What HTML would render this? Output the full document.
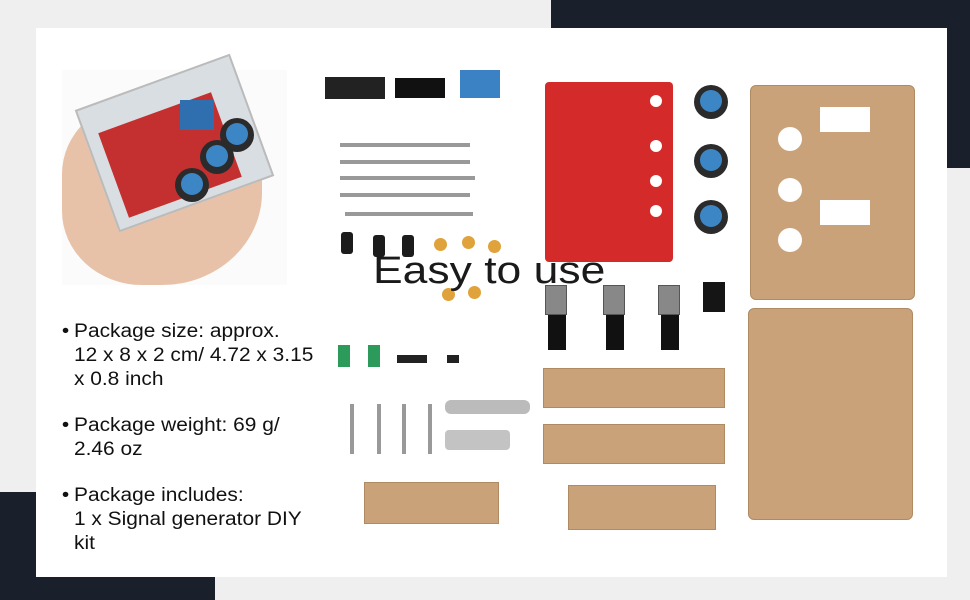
<!DOCTYPE html>
<html><head><style>
body{margin:0;width:970px;height:600px;background:#efefef;position:relative;overflow:hidden;font-family:"Liberation Sans",sans-serif}
div{position:absolute;box-sizing:border-box}
.t{left:74px;font-size:19px;line-height:24px;color:#111;white-space:nowrap;transform:scaleX(1.1);transform-origin:0 0}
.b{position:absolute;left:-11px;top:0}
.tan{background:#c9a27a;border:1px solid #b08a63}
.knob{width:34px;height:34px;border-radius:50%;background:#2b2b2b}
.knob::after{content:"";position:absolute;left:6px;top:5px;width:22px;height:22px;border-radius:50%;background:#3d86c6}
.hole{background:#fff;border-radius:50%}
.res{height:4px;background:#999}
.cap{width:12px;height:22px;background:#1c1c1c;border-radius:3px}
.cer{width:13px;height:13px;border-radius:50%;background:#e0a23a}
.pot{width:22px;height:30px;background:#888;border:1px solid #555}
.scr{width:4px;background:#999}
</style></head><body>
<div style="left:551px;top:0;width:419px;height:168px;background:#1a1f2c"></div>
<div style="left:0;top:492px;width:215px;height:108px;background:#1a1f2c"></div>
<div style="left:36px;top:28px;width:911px;height:549px;background:#fff"></div>

<div style="left:62px;top:70px;width:225px;height:215px;background:#fbfbfb"></div>
<div style="left:62px;top:100px;width:200px;height:185px;background:#e8c2a8;border-radius:40% 30% 50% 40%"></div>
<div style="left:92px;top:78px;width:165px;height:130px;background:#d9dee2;border:2px solid #bbb;transform:rotate(-20deg)"></div>
<div style="left:110px;top:110px;width:120px;height:90px;background:#c43030;transform:rotate(-20deg)"></div>
<div style="left:180px;top:100px;width:34px;height:30px;background:#2f6fb0"></div>
<div class="knob" style="left:220px;top:118px"></div>
<div class="knob" style="left:200px;top:140px"></div>
<div class="knob" style="left:175px;top:168px"></div>

<div style="left:325px;top:77px;width:60px;height:22px;background:#222"></div>
<div style="left:395px;top:78px;width:50px;height:20px;background:#111"></div>
<div style="left:460px;top:70px;width:40px;height:28px;background:#3b82c4"></div>
<div class="res" style="left:340px;top:143px;width:130px"></div>
<div class="res" style="left:340px;top:160px;width:130px"></div>
<div class="res" style="left:340px;top:176px;width:135px"></div>
<div class="res" style="left:340px;top:193px;width:130px"></div>
<div class="res" style="left:345px;top:212px;width:128px"></div>
<div class="cap" style="left:341px;top:232px"></div>
<div class="cap" style="left:373px;top:235px"></div>
<div class="cap" style="left:402px;top:235px"></div>
<div class="cer" style="left:434px;top:238px"></div><div class="cer" style="left:462px;top:236px"></div><div class="cer" style="left:488px;top:240px"></div>
<div class="cer" style="left:442px;top:288px"></div><div class="cer" style="left:468px;top:286px"></div>
<div style="left:338px;top:345px;width:12px;height:22px;background:#2c9a5a"></div>
<div style="left:368px;top:345px;width:12px;height:22px;background:#2c9a5a"></div>
<div style="left:397px;top:355px;width:30px;height:8px;background:#222"></div>
<div style="left:447px;top:355px;width:12px;height:8px;background:#222"></div>
<div class="scr" style="left:350px;top:404px;height:50px"></div>
<div class="scr" style="left:377px;top:404px;height:50px"></div>
<div class="scr" style="left:402px;top:404px;height:50px"></div>
<div class="scr" style="left:428px;top:404px;height:50px"></div>
<div style="left:445px;top:400px;width:85px;height:14px;background:#bbb;border-radius:6px"></div>
<div style="left:445px;top:430px;width:65px;height:20px;background:#aaa;border-radius:4px;opacity:.7"></div>
<div class="tan" style="left:364px;top:482px;width:135px;height:42px"></div>

<div style="left:545px;top:82px;width:128px;height:180px;background:#d42a2a;border-radius:4px"></div>
<div class="hole" style="left:650px;top:95px;width:12px;height:12px"></div>
<div class="hole" style="left:650px;top:140px;width:12px;height:12px"></div>
<div class="hole" style="left:650px;top:175px;width:12px;height:12px"></div>
<div class="hole" style="left:650px;top:205px;width:12px;height:12px"></div>
<div class="knob" style="left:694px;top:85px"></div>
<div class="knob" style="left:694px;top:144px"></div>
<div class="knob" style="left:694px;top:200px"></div>

<div class="pot" style="left:545px;top:285px"></div><div style="left:548px;top:315px;width:18px;height:35px;background:#111"></div>
<div class="pot" style="left:603px;top:285px"></div><div style="left:606px;top:315px;width:18px;height:35px;background:#111"></div>
<div class="pot" style="left:658px;top:285px"></div><div style="left:661px;top:315px;width:18px;height:35px;background:#111"></div>
<div style="left:703px;top:282px;width:22px;height:30px;background:#151515"></div>
<div class="tan" style="left:543px;top:368px;width:182px;height:40px"></div>
<div class="tan" style="left:543px;top:424px;width:182px;height:40px"></div>
<div class="tan" style="left:568px;top:485px;width:148px;height:45px"></div>

<div class="tan" style="left:750px;top:85px;width:165px;height:215px;border-radius:6px"></div>
<div class="hole" style="left:778px;top:127px;width:24px;height:24px"></div>
<div class="hole" style="left:778px;top:178px;width:24px;height:24px"></div>
<div class="hole" style="left:778px;top:228px;width:24px;height:24px"></div>
<div style="left:820px;top:107px;width:50px;height:25px;background:#fff"></div>
<div style="left:820px;top:200px;width:50px;height:25px;background:#fff"></div>
<div class="tan" style="left:748px;top:308px;width:165px;height:212px;border-radius:6px"></div>

<div style="left:373px;top:250px;font-size:38px;color:#1a1a1a;white-space:nowrap;transform:scaleX(1.17);transform-origin:0 0">Easy to use</div>

<div class="t" style="top:320px"><span class="b">•</span>Package size: approx.<br>12 x 8 x 2 cm/ 4.72 x 3.15<br>x 0.8 inch</div>
<div class="t" style="top:414px"><span class="b">•</span>Package weight: 69 g/<br>2.46 oz</div>
<div class="t" style="top:484px"><span class="b">•</span>Package includes:<br>1 x Signal generator DIY<br>kit</div>
</body></html>
